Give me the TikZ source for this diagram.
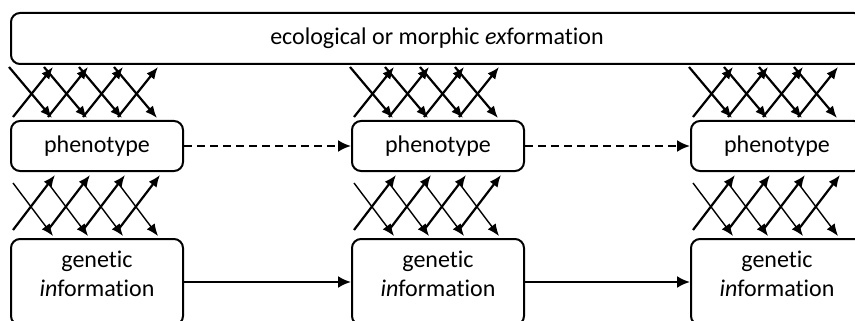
\documentclass[tikz,border=0pt]{standalone}
\usepackage{fontspec}
\setmainfont{Carlito}[RawFeature=-liga]
\usetikzlibrary{arrows.meta,calc,positioning}
\tikzset{
  infobox/.style={draw,line width=2pt,rounded corners=9pt,minimum width=172pt,
    inner sep=0pt,align=center,font=\fontsize{24}{29}\selectfont},
  flowarr/.style={line width=2.2pt,-{Latex[length=13pt,width=12pt]}},
  crossarr/.style={line width=2.2pt,-{Latex[length=12pt,width=10pt]}},
  thinarr/.style={line width=1.4pt,-{Latex[length=12pt,width=10pt]}},
}

\begin{document}
\begin{tikzpicture}[x=1pt,y=-1pt]
\useasboundingbox (0,0) rectangle (855,321);
\clip (0,0) rectangle (855,321);
% outer layer
\node[infobox,minimum width=852pt,minimum height=51pt,anchor=north west] (exf) at (10,12)
  {ecological or morphic \textit{ex}formation};
% three generations
\foreach \c/\x in {1/10,2/351,3/690}{
  \node[infobox,minimum height=50pt,anchor=north west] (phen\c) at (\x,120) {phenotype};
  \node[infobox,minimum height=86pt,text depth=17pt,anchor=north west] (gen\c) at (\x,238)
    {genetic\\\textit{in}formation};
}
\draw[flowarr,dash pattern=on 8pt off 5pt] (phen1) -- (phen2);
\draw[flowarr,dash pattern=on 8pt off 5pt] (phen2) -- (phen3);
\draw[flowarr] (gen1) -- (gen2);
\draw[flowarr] (gen2) -- (gen3);
% exchange arrows
\foreach \c in {1,2,3}
\foreach \k in {0,...,3}{
  \draw[crossarr] ($(phen\c.north west)+(35*\k-1,-53)$) -- ($(phen\c.north west)+(35*\k+42,-2)$);
  \draw[crossarr] ($(phen\c.north west)+(35*\k+3,-3)$) -- ($(phen\c.north west)+(35*\k+43,-53)$);
  \draw[thinarr] ($(gen\c.north west)+(35*\k+3,-55)$) -- ($(gen\c.north west)+(35*\k+43,-2)$);
  \draw[crossarr] ($(gen\c.north west)+(35*\k+3,-8)$) -- ($(gen\c.north west)+(35*\k+45,-63)$);
}
\end{tikzpicture}
\end{document}
